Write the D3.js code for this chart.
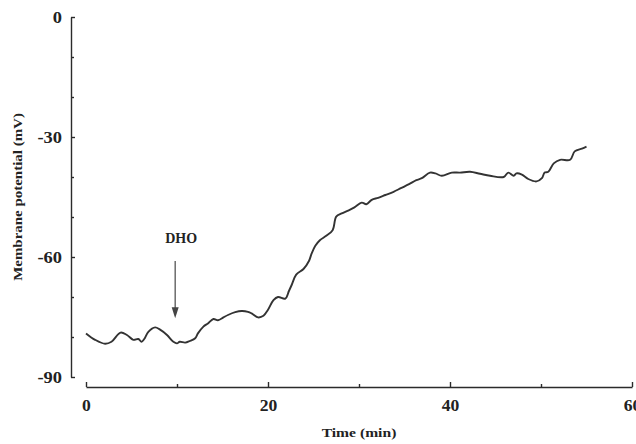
<!DOCTYPE html>
<html>
<head>
<meta charset="utf-8">
<script src="https://cdn.jsdelivr.net/npm/d3@7"></script>
<style>
  body { margin: 0; background: #fff; }
  svg text { font-family: "Liberation Serif", "Times New Roman", serif; font-weight: bold; fill: #222; }
</style>
</head>
<body>
<script>
const width = 636, height = 444;

// trace: time (min) and membrane potential (mV)
const timeMin = [0, 1.0, 2.1, 2.8, 3.8, 4.5, 5.2, 5.75, 6.1, 6.4, 6.85, 7.6, 8.1, 8.9, 9.6, 10.0,
	10.3, 10.9, 11.4, 12.0, 12.3, 12.9, 13.4, 14.0, 14.5, 15.1, 15.6, 16.4, 17.1, 17.8, 18.2, 18.9,
	19.5, 20.0, 20.6, 21.1, 21.9, 22.3, 22.6, 23.1, 23.9, 24.5, 24.8, 25.2, 25.7, 26.4, 27.1, 27.5,
	28.1, 28.8, 29.5, 30.3, 30.8, 31.4, 32.1, 32.9, 33.8, 34.6, 35.5, 36.3, 36.9, 37.8, 38.4, 39.1,
	40.2, 41.1, 42.2, 43.3, 44.4, 45.9, 46.4, 47.0, 47.3, 47.9, 48.6, 49.5, 50.1, 50.4, 50.8, 51.4,
	52.1, 53.2, 53.7, 54.5, 55.0];
const potential = [-79.1, -80.7, -81.7, -81.2, -78.9, -79.5, -80.7, -80.5, -81.2, -80.5, -78.7, -77.6, -78.1, -79.5, -81.2, -81.6,
	-81.2, -81.4, -81.0, -80.3, -79.1, -77.4, -76.6, -75.5, -75.8, -75.1, -74.5, -73.8, -73.5, -73.7, -74.1, -75.1,
	-74.7, -73.2, -70.8, -70.0, -70.4, -68.5, -67.0, -64.4, -63.0, -61.0, -59.1, -57.2, -55.8, -54.7, -53.3, -49.9,
	-49.1, -48.4, -47.6, -46.4, -46.8, -45.7, -45.2, -44.5, -43.7, -42.8, -41.8, -40.8, -40.3, -38.9, -39.1, -39.7,
	-38.9, -38.9, -38.7, -39.2, -39.7, -40.0, -38.9, -39.7, -39.1, -39.4, -40.5, -41.1, -40.3, -38.9, -38.7, -36.6,
	-35.7, -35.7, -33.6, -32.9, -32.4];

const xMajorTicks = [0, 20, 40, 60];
const xMinorTicks = [10, 30, 50];
const yMajorTicks = [0, -30, -60, -90];
const yMinorTicks = [-10, -20, -40, -50, -70, -80];

const drugLabel = "DHO";
const drugTime = 9.8;

const xLabel = "Time (min)";
const yLabel = "Membrane potential (mV)";

const inkColor = "#2b2b2b";

const svg = d3.select("body").append("svg")
	.attr("width", width)
	.attr("height", height);

const x = d3.scaleLinear().domain([0, 60]).range([86, 632]);
const y = d3.scaleLinear().domain([-90, 0]).range([377, 17]);
const xAxisY = 387, yAxisX = 71;

// stretch text a bit wider, the scanned figure has wide lettering
function stretch(sel, k) {
	sel.each(function() {
		const w = this.getComputedTextLength();
		d3.select(this).attr("textLength", w * k).attr("lengthAdjust", "spacingAndGlyphs");
	});
}

function styleAxis(g) {
	g.selectAll("path, line").attr("stroke", inkColor).attr("stroke-width", 1.4);
	g.selectAll("text").attr("fill", "#222");
}

// plain hyphen for negatives, like the original
const plain = d => String(d);

// y axis: labelled major ticks + small minor ticks pointing inward
const gy = svg.append("g").attr("transform", `translate(${yAxisX},0)`)
	.call(d3.axisLeft(y).tickValues(yMajorTicks).tickSize(-4).tickSizeOuter(0).tickPadding(9).tickFormat(plain))
	.call(styleAxis);
gy.selectAll("text").attr("font-size", 16);
svg.append("g").attr("transform", `translate(${yAxisX},0)`)
	.call(d3.axisLeft(y).tickValues(yMinorTicks).tickSize(-3).tickFormat(""))
	.call(g => g.select(".domain").remove())
	.call(styleAxis);

// x axis, detached below the y axis
const gx = svg.append("g").attr("transform", `translate(0,${xAxisY})`)
	.call(d3.axisBottom(x).tickValues(xMajorTicks).tickSize(-5).tickSizeOuter(0).tickPadding(13).tickFormat(plain))
	.call(styleAxis);
gx.selectAll("text").attr("font-size", 16);
svg.append("g").attr("transform", `translate(0,${xAxisY})`)
	.call(d3.axisBottom(x).tickValues(xMinorTicks).tickSize(-3).tickFormat(""))
	.call(g => g.select(".domain").remove())
	.call(styleAxis);

stretch(gy.selectAll("text"), 1.15);
stretch(gx.selectAll("text"), 1.1);

// axis titles
const xt = svg.append("text")
	.attr("x", (x.range()[0] + x.range()[1]) / 2)
	.attr("y", 437)
	.attr("text-anchor", "middle")
	.attr("font-size", 13)
	.text(xLabel);
stretch(xt, 1.2);

const yt = svg.append("text")
	.attr("transform", `translate(22,${(y.range()[0] + y.range()[1]) / 2}) rotate(-90)`)
	.attr("text-anchor", "middle")
	.attr("font-size", 13)
	.text(yLabel);
stretch(yt, 1.15);

// the trace
const points = timeMin.map((t, i) => [t, potential[i]]);
const line = d3.line()
	.x(d => x(d[0]))
	.y(d => y(d[1]))
	.curve(d3.curveCatmullRom.alpha(0.5));

svg.append("path")
	.datum(points)
	.attr("d", line)
	.attr("fill", "none")
	.attr("stroke", "#333")
	.attr("stroke-width", 1.9)
	.attr("stroke-linejoin", "round");

// DHO arrow
const ax = x(drugTime);
const arrowTop = y(-61), arrowTip = y(-75.3);
svg.append("line")
	.attr("x1", ax).attr("x2", ax)
	.attr("y1", arrowTop).attr("y2", arrowTip - 8)
	.attr("stroke", "#555")
	.attr("stroke-width", 1.3);
svg.append("path")
	.attr("d", `M${ax - 3.5},${arrowTip - 11} L${ax + 3.5},${arrowTip - 11} L${ax},${arrowTip} Z`)
	.attr("fill", "#444");
svg.append("text")
	.attr("x", ax + 6)
	.attr("y", arrowTop - 18)
	.attr("text-anchor", "middle")
	.attr("font-size", 14)
	.text(drugLabel);
</script>
</body>
</html>
